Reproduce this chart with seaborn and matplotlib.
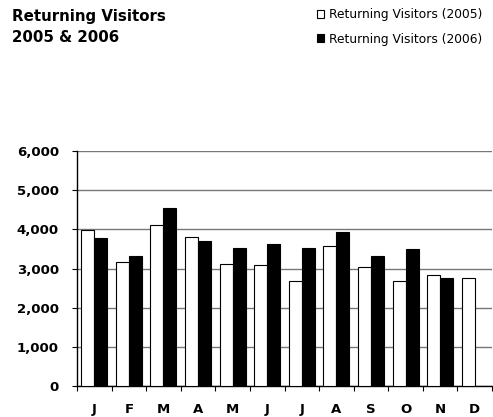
import matplotlib
matplotlib.use("Agg")
import matplotlib.pyplot as plt
import seaborn as sns
import pandas as pd
import numpy as np
from matplotlib.patches import Patch

months = ["J", "F", "M", "A", "M", "J", "J", "A", "S", "O", "N", "D"]
visitors_2005 = [3980, 3170, 4100, 3800, 3120, 3090, 2680, 3570, 3040, 2680, 2840, 2770]
visitors_2006 = [3780, 3330, 4550, 3700, 3530, 3620, 3530, 3940, 3330, 3510, 2770, np.nan]
series = ["Returning Visitors (2005)", "Returning Visitors (2006)"]
yticks = [0, 1000, 2000, 3000, 4000, 5000, 6000]

sns.set_style("white")
plt.rcParams["font.family"] = ["DejaVu Sans"]
plt.rcParams["text.color"] = "black"
plt.rcParams["xtick.color"] = "black"
plt.rcParams["ytick.color"] = "black"

rows = []
for i, m in enumerate(months):
    rows.append({"idx": i, "month": m, "series": series[0], "value": visitors_2005[i]})
    rows.append({"idx": i, "month": m, "series": series[1], "value": visitors_2006[i]})
df = pd.DataFrame(rows)

fig = plt.figure(figsize=(4.93, 4.17), dpi=100)
ax = fig.add_axes([77/493, 31/417, (492-77)/493, (386-151)/417])

sns.barplot(data=df, x="idx", y="value", hue="series", palette=["white", "black"],
            edgecolor="black", linewidth=0.8, width=0.75, ax=ax, legend=False,
            saturation=1, zorder=3)

ax.set_xlim(-0.5, 11.5)
ax.set_ylim(0, 6000)
ax.set_yticks(yticks)
ax.set_yticklabels([f"{v:,}" for v in yticks], fontweight="bold", fontsize=9.5, color="black")
ax.set_xticks(range(12))
ax.set_xticklabels(months, fontweight="bold", fontsize=9.5, color="black")
ax.set_xticks(np.arange(-0.5, 12, 1), minor=True)
ax.tick_params(axis="x", which="major", bottom=True, length=0, pad=12)
ax.tick_params(axis="x", which="minor", bottom=True, length=3.6, direction="out",
               width=0.8, color="black")
ax.tick_params(axis="y", which="major", left=True, length=3.6, direction="out",
               width=0.8, color="black", pad=9.4)
ax.set_xlabel("")
ax.set_ylabel("")
ax.yaxis.grid(True, color="#777777", linewidth=1, zorder=0)
ax.set_axisbelow(True)
for s in ["top", "right"]:
    ax.spines[s].set_visible(False)
ax.spines["left"].set_color("black")
ax.spines["bottom"].set_color("black")
ax.spines["left"].set_linewidth(1)
ax.spines["bottom"].set_linewidth(1)

fig.text(12/493, 1 - 21/417, "Returning Visitors", fontsize=10.8,
         fontweight="bold", va="baseline", ha="left", color="black")
fig.text(12/493, 1 - 42.5/417, "2005 & 2006", fontsize=10.8,
         fontweight="bold", va="baseline", ha="left", color="black")

handles = [Patch(facecolor="white", edgecolor="black", linewidth=0.8),
           Patch(facecolor="black", edgecolor="black", linewidth=0.8)]
leg = fig.legend(handles, series, loc="upper left", bbox_to_anchor=(317/493, 1 - 8/417),
                 frameon=False, fontsize=8.8, handlelength=0.6, handleheight=0.6,
                 handletextpad=0.35, labelspacing=0.95, borderaxespad=0, borderpad=0)
for t in leg.get_texts():
    t.set_color("black")

fig.savefig("out.png", dpi=100)
